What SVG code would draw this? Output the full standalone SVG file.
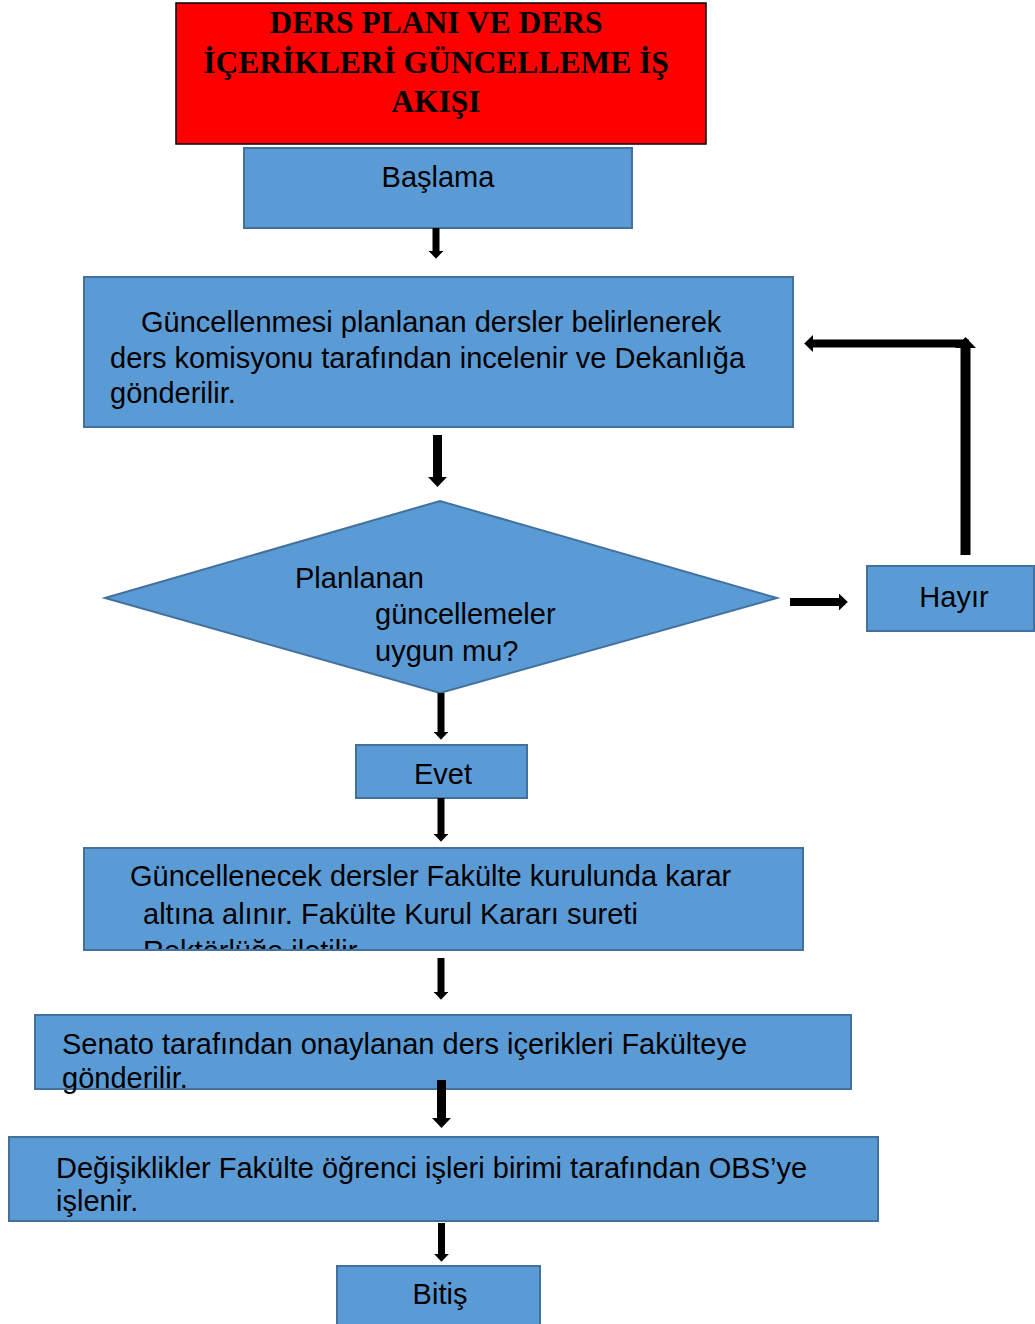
<svg xmlns="http://www.w3.org/2000/svg" width="1035" height="1324" viewBox="0 0 1035 1324">
<style>
.box{fill:#5b9bd5;stroke:#41719c;stroke-width:2}
.t{font-family:"Liberation Sans",Arial,sans-serif;font-size:29px;fill:#000}
.title{font-family:"Liberation Serif","Times New Roman",serif;font-size:31.5px;font-weight:bold;fill:#000;text-anchor:middle}
.c{text-anchor:middle}
.arr{stroke:#000;fill:none;marker-end:url(#ah)}
</style>
<defs>
<marker id="ah" viewBox="0 0 10 10" refX="0" refY="5" markerUnits="strokeWidth" markerWidth="1.1" markerHeight="2.1" orient="auto" preserveAspectRatio="none">
<path d="M0,0 L10,5 L0,10 z" fill="#000"/>
</marker>
<clipPath id="clip3"><rect x="84" y="848" width="719" height="102"/></clipPath>
</defs>
<rect width="1035" height="1324" fill="#fff"/>

<g id="title">
<rect x="176" y="3" width="530" height="141" fill="#ff0000" stroke="#000" stroke-width="1.5"/>
<text class="title" x="436" y="33">DERS PLANI VE DERS</text>
<text class="title" x="436" y="73">İÇERİKLERİ GÜNCELLEME İŞ</text>
<text class="title" x="436" y="112">AKIŞI</text>
</g>

<g id="baslama">
<rect class="box" x="244" y="148" width="388" height="80" stroke-width="1.2"/>
<text class="t c" x="438" y="187">Başlama</text>
</g>

<g id="guncellenmesi">
<rect class="box" x="84" y="277" width="709" height="150"/>
<text class="t" x="141" y="332">Güncellenmesi planlanan dersler belirlenerek</text>
<text class="t" x="110" y="368">ders komisyonu tarafından incelenir ve Dekanlığa</text>
<text class="t" x="110" y="403">gönderilir.</text>
</g>

<g id="karar">
<polygon class="box" points="105,598 440,501 777,598 440,693"/>
<text class="t" x="295" y="588">Planlanan</text>
<text class="t" x="375" y="624">güncellemeler</text>
<text class="t" x="375" y="661">uygun mu?</text>
</g>

<g id="hayir">
<rect class="box" x="867" y="566" width="167" height="65"/>
<text class="t c" x="954" y="607">Hayır</text>
</g>

<g id="evet">
<rect class="box" x="356" y="745" width="171" height="53"/>
<text class="t c" x="443" y="784">Evet</text>
</g>

<g id="fakulte">
<rect class="box" x="84" y="848" width="719" height="102"/>
<g clip-path="url(#clip3)">
<text class="t" x="130" y="886">Güncellenecek dersler Fakülte kurulunda karar</text>
<text class="t" x="143" y="924">altına alınır. Fakülte Kurul Kararı sureti</text>
<text class="t" x="143" y="961">Rektörlüğe iletilir.</text>
</g>
<rect x="84" y="848" width="719" height="102" fill="none" stroke="#41719c" stroke-width="2"/>
</g>

<g id="senato">
<rect class="box" x="35" y="1015" width="816" height="74"/>
<text class="t" x="62" y="1054">Senato tarafından onaylanan ders içerikleri Fakülteye</text>
<text class="t" x="62" y="1088">gönderilir.</text>
</g>

<g id="degisiklikler">
<rect class="box" x="9" y="1137" width="869" height="84"/>
<text class="t" x="56" y="1178">Değişiklikler Fakülte öğrenci işleri birimi tarafından OBS’ye</text>
<text class="t" x="56" y="1211">işlenir.</text>
</g>

<g id="bitis">
<rect class="box" x="337" y="1266" width="203" height="70"/>
<text class="t c" x="440" y="1304">Bitiş</text>
</g>

<g id="connectors">
<line class="arr" x1="436" y1="228" x2="436" y2="251" stroke-width="7"/>
<line class="arr" x1="437.5" y1="435" x2="437.5" y2="477" stroke-width="9"/>
<line class="arr" x1="441" y1="693" x2="441" y2="732" stroke-width="7"/>
<line class="arr" x1="441" y1="798" x2="441" y2="834" stroke-width="7"/>
<line class="arr" x1="441" y1="958" x2="441" y2="992" stroke-width="7"/>
<line class="arr" x1="441.5" y1="1080" x2="441.5" y2="1118" stroke-width="9"/>
<line class="arr" x1="441.5" y1="1223" x2="441.5" y2="1254" stroke-width="7"/>
<line class="arr" x1="790" y1="602" x2="839" y2="602" stroke-width="8"/>
<line class="arr" x1="969" y1="343.5" x2="813" y2="343.5" stroke-width="8"/>
<line class="arr" x1="965.5" y1="555" x2="965.5" y2="348" stroke-width="10"/>
</g>
</svg>
